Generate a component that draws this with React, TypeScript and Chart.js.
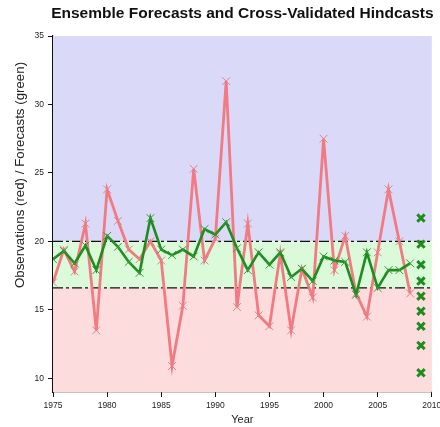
import React, { useEffect, useRef } from "react";
import { Chart, registerables } from "chart.js";

Chart.register(...registerables);

const TITLE = "Ensemble Forecasts and Cross-Validated Hindcasts";
const Y_TITLE = "Observations (red) / Forecasts (green)";
const X_TITLE = "Year";

const YEARS = [
  1975, 1976, 1977, 1978, 1979, 1980, 1981, 1982, 1983, 1984, 1985, 1986,
  1987, 1988, 1989, 1990, 1991, 1992, 1993, 1994, 1995, 1996, 1997, 1998,
  1999, 2000, 2001, 2002, 2003, 2004, 2005, 2006, 2007, 2008,
];
const OBSERVED = [
  17.0, 19.4, 17.8, 21.3, 13.5, 23.8, 21.5, 19.4, 18.7, 20.0, 18.6, 10.9,
  15.3, 25.3, 18.6, 20.2, 31.7, 15.2, 21.3, 14.6, 13.8, 19.1, 13.5, 18.0,
  15.9, 27.5, 17.9, 20.4, 16.2, 14.5, 19.2, 23.8, 20.0, 16.2,
];
const FORECAST = [
  18.7, 19.3, 18.4, 19.7, 17.9, 20.4, 19.6, 18.5, 17.7, 21.7, 19.4, 19.0,
  19.4, 18.9, 20.9, 20.5, 21.4, 19.5, 17.9, 19.2, 18.3, 19.2, 17.4, 18.0,
  17.1, 18.9, 18.6, 18.5, 16.1, 19.2, 16.6, 17.9, 17.9, 18.4,
];
const ENSEMBLE_YEAR = 2009;
const ENSEMBLE = [21.7, 19.8, 18.3, 17.1, 16.0, 14.9, 13.8, 12.4, 10.4];
const UPPER_TERCILE = 20.0;
const LOWER_TERCILE = 16.6;
const X_MIN = 1975;
const X_MAX = 2010;
const Y_MIN = 9;
const Y_MAX = 35;
const X_TICKS = [1975, 1980, 1985, 1990, 1995, 2000, 2005, 2010];
const Y_TICKS = [10, 15, 20, 25, 30, 35];

const FONT = "'Liberation Sans', Arial, sans-serif";

const bandsPlugin = {
  id: "bands",
  beforeDatasetsDraw(chart: any) {
    const { ctx, chartArea, scales } = chart;
    const y = scales.y;
    const yU = y.getPixelForValue(UPPER_TERCILE);
    const yL = y.getPixelForValue(LOWER_TERCILE);
    ctx.save();
    ctx.fillStyle = "#dadaf8";
    ctx.fillRect(chartArea.left, chartArea.top, chartArea.right - chartArea.left, yU - chartArea.top);
    ctx.fillStyle = "#dafada";
    ctx.fillRect(chartArea.left, yU, chartArea.right - chartArea.left, yL - yU);
    ctx.fillStyle = "#fcdcdc";
    ctx.fillRect(chartArea.left, yL, chartArea.right - chartArea.left, chartArea.bottom - yL);
    ctx.restore();
  },
};

const textPlugin = {
  id: "texts",
  afterDraw(chart: any) {
    const { ctx, chartArea } = chart;
    ctx.save();
    ctx.fillStyle = "#111";
    ctx.font = `bold 15.5px ${FONT}`;
    ctx.textAlign = "center";
    ctx.textBaseline = "middle";
    ctx.fillText(TITLE, (chartArea.left + chartArea.right) / 2, 14);
    ctx.font = `13.3px ${FONT}`;
    ctx.fillStyle = "#222";
    ctx.translate(20, 175);
    ctx.rotate(-Math.PI / 2);
    ctx.fillText(Y_TITLE, 0, 0);
    ctx.restore();
  },
};

export default function App() {
  const ref = useRef<HTMLCanvasElement | null>(null);
  useEffect(() => {
    if (!ref.current) return;
    const line = (xs: number[], ys: number[]) => xs.map((x, i) => ({ x, y: ys[i] }));
    const chart = new Chart(ref.current, {
      type: "scatter",
      data: {
        datasets: [
          {
            data: [
              { x: X_MIN, y: UPPER_TERCILE },
              { x: X_MAX, y: UPPER_TERCILE },
            ],
            showLine: true,
            borderColor: "#111",
            borderWidth: 1.2,
            borderDash: [10, 3, 3, 3],
            pointRadius: 0,
            order: 4,
          },
          {
            data: [
              { x: X_MIN, y: LOWER_TERCILE },
              { x: X_MAX, y: LOWER_TERCILE },
            ],
            showLine: true,
            borderColor: "#111",
            borderWidth: 1.2,
            borderDash: [10, 3, 3, 3],
            pointRadius: 0,
            order: 4,
          },
          {
            data: line(YEARS, OBSERVED),
            showLine: true,
            borderColor: "#f27a82",
            borderWidth: 2.8,
            pointStyle: "crossRot",
            pointRadius: 5.5,
            pointBorderColor: "#e0828a",
            pointBorderWidth: 1,
            order: 3,
          },
          {
            data: line(YEARS, FORECAST),
            showLine: true,
            borderColor: "#1e8c1e",
            borderWidth: 2.6,
            pointStyle: "crossRot",
            pointRadius: 5.5,
            pointBorderColor: "#3a9a3a",
            pointBorderWidth: 1,
            order: 2,
          },
          {
            data: ENSEMBLE.map((v) => ({ x: ENSEMBLE_YEAR, y: v })),
            showLine: false,
            pointStyle: "crossRot",
            pointRadius: 5.2,
            pointBorderColor: "#1e8c1e",
            pointBorderWidth: 3,
            order: 1,
          },
        ],
      },
      options: {
        animation: false,
        responsive: false,
        devicePixelRatio: 1,
        layout: { padding: { top: 36, right: 7, left: 0, bottom: 0 } },
        plugins: {
          legend: { display: false },
          title: { display: false },
          tooltip: { enabled: false },
        },
        scales: {
          x: {
            type: "linear",
            min: X_MIN,
            max: X_MAX,
            afterBuildTicks: (s: any) => {
              s.ticks = X_TICKS.map((v) => ({ value: v }));
            },
            afterFit: (s: any) => {
              s.height = 35;
              s.paddingRight = 0;
            },
            grid: {
              display: true,
              drawOnChartArea: false,
              drawTicks: true,
              tickLength: 5,
              color: "#111",
              lineWidth: 1,
            },
            border: { display: true, color: "#111", width: 1.2 },
            ticks: {
              color: "#222",
              font: { family: FONT, size: 8.5 },
              padding: 4,
              maxRotation: 0,
              autoSkip: false,
              callback: (v: any) => String(v),
            },
            title: {
              display: true,
              text: X_TITLE,
              color: "#222",
              font: { family: FONT, size: 11 },
              padding: { top: 0, bottom: 0 },
            },
          },
          y: {
            min: Y_MIN,
            max: Y_MAX,
            afterBuildTicks: (s: any) => {
              s.ticks = Y_TICKS.map((v) => ({ value: v }));
            },
            afterFit: (s: any) => {
              s.width = 53;
            },
            grid: {
              display: true,
              drawOnChartArea: false,
              drawTicks: true,
              tickLength: 5,
              color: "#111",
              lineWidth: 1,
            },
            border: { display: true, color: "#111", width: 1.2 },
            ticks: {
              color: "#222",
              font: { family: FONT, size: 8.5 },
              padding: 4,
              autoSkip: false,
            },
          },
        },
      },
      plugins: [bandsPlugin, textPlugin],
    });
    return () => chart.destroy();
  }, []);
  return (
    <div style={{ position: "fixed", left: 0, top: 0, width: 440, height: 427, background: "#fff" }}>
      <canvas ref={ref} width={440} height={427} style={{ display: "block" }} />
    </div>
  );
}
